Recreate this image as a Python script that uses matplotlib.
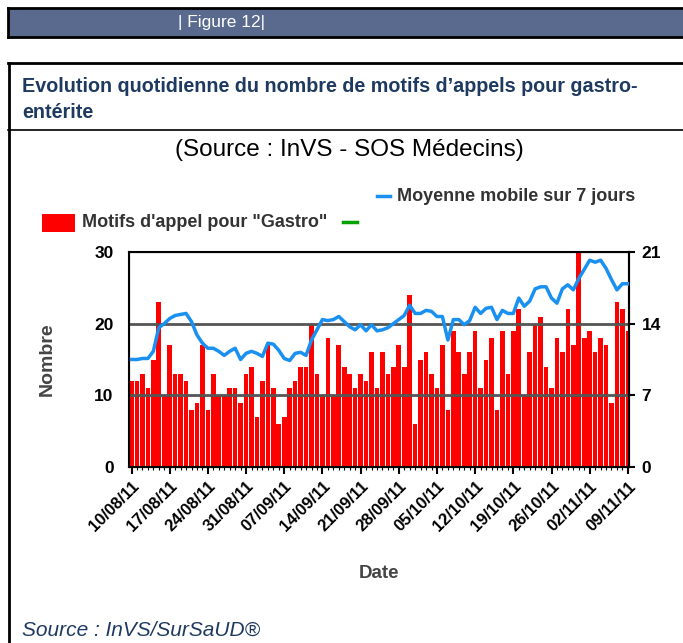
import numpy as np
import pandas as pd
import matplotlib
matplotlib.use("Agg")
import matplotlib.pyplot as plt
import matplotlib.dates as mdates
from matplotlib.patches import Rectangle
from matplotlib.lines import Line2D

plt.rcParams['font.family'] = ['Liberation Sans', 'DejaVu Sans']

# daily counts of "Gastro" call reasons, 10/08/11 -> 09/11/11
start = "2011-08-10"
cases = [12, 12, 13, 11, 15, 23, 10, 17, 13, 13, 12, 8, 9, 17, 8, 13, 10, 10, 11, 11,
         9, 13, 14, 7, 12, 17, 11, 6, 7, 11, 12, 14, 14, 20, 13, 10, 18, 10, 17, 14,
         13, 11, 13, 12, 16, 11, 16, 13, 14, 17, 14, 24, 6, 15, 16, 13, 11, 17, 8, 19,
         16, 13, 16, 19, 11, 15, 18, 8, 19, 13, 19, 22, 10, 16, 20, 21, 14, 11, 18, 16,
         22, 17, 30, 18, 19, 16, 18, 17, 9, 23, 22, 19]
# 7-day moving average, read on the right axis (0-21)
moving_avg = [10.5, 10.5, 10.6, 10.6, 11.3, 13.6, 14.0, 14.5, 14.8, 14.9, 15.0, 14.2,
              12.9, 12.1, 11.6, 11.6, 11.3, 10.9, 11.3, 11.6, 10.5, 11.1, 11.3, 11.1,
              10.8, 12.1, 12.0, 11.4, 10.6, 10.4, 11.1, 11.2, 10.9, 12.4, 13.4, 14.4,
              14.3, 14.4, 14.7, 14.2, 13.7, 13.4, 13.9, 13.3, 13.9, 13.3, 13.4, 13.6,
              14.0, 14.4, 14.8, 15.8, 15.0, 15.0, 15.3, 15.2, 14.7, 14.7, 12.4, 14.4,
              14.4, 13.9, 14.3, 15.6, 15.0, 15.5, 15.6, 14.4, 15.3, 15.0, 15.0, 16.5,
              15.7, 16.2, 17.4, 17.6, 17.6, 16.5, 16.0, 17.4, 17.8, 17.3, 18.4, 19.3,
              20.2, 20.0, 20.2, 19.4, 18.3, 17.3, 17.9, 17.9]
dates = pd.date_range(start, periods=len(cases), freq="D")

fig = plt.figure(figsize=(6.83, 6.43), dpi=100)

# page decorations (pixel coords -> figure fraction)
W, H = 683.0, 643.0
def fx(x): return x / W
def fy(y): return 1 - y / H

fig.patches.append(Rectangle((fx(8), fy(37)), fx(675), (29) / H, transform=fig.transFigure,
                             facecolor="#596a8e", edgecolor="none"))
for y in (8, 37):
    fig.lines.append(Line2D([fx(8), 1], [fy(y), fy(y)], transform=fig.transFigure, color="black", lw=2))
fig.lines.append(Line2D([fx(8), fx(8)], [fy(8), fy(37)], transform=fig.transFigure, color="black", lw=2))
fig.text(fx(178), fy(23), "| Figure 12|", color="white", fontsize=12.5, va="center", ha="left")

fig.lines.append(Line2D([fx(8), 1], [fy(63), fy(63)], transform=fig.transFigure, color="black", lw=2))
fig.lines.append(Line2D([fx(8), 1], [fy(130), fy(130)], transform=fig.transFigure, color="black", lw=1.2))
fig.lines.append(Line2D([fx(9), fx(9)], [fy(63), 0], transform=fig.transFigure, color="black", lw=2))
fig.text(fx(22), fy(87), "Evolution quotidienne du nombre de motifs d\u2019appels pour gastro-",
         color="#1f3a60", fontsize=14.2, fontweight="bold", va="center")
fig.text(fx(22), fy(112), "entérite", color="#1f3a60", fontsize=14.2, fontweight="bold",
         va="center")
fig.text(fx(349), fy(150), "(Source : InVS - SOS Médecins)", fontsize=17.5, ha="center", va="center")
fig.text(fx(22), fy(630), "Source : InVS/SurSaUD\u00ae", color="#1f3a60", fontsize=15,
         style="italic", va="center")

ax = fig.add_axes([fx(129), fy(467), (629 - 129) / W, (467 - 252) / H])
ax.bar(dates, cases, width=0.85, color="#ff0000", zorder=2)
ax.set_ylim(0, 30)
ax.set_yticks([0, 10, 20, 30])
ax.set_xlim(dates[0] - pd.Timedelta(hours=11), dates[-1] + pd.Timedelta(hours=5))
for v in (10, 20):
    ax.axhline(v, color="#555555", lw=2, zorder=3)
ax.set_xticks(dates[::7])
ax.xaxis.set_major_formatter(mdates.DateFormatter("%d/%m/%y"))
ax.xaxis.set_minor_locator(mdates.DayLocator())
ax.tick_params(axis="x", which="major", length=5, width=1.5)
ax.tick_params(axis="x", which="minor", length=2, width=0.8)
ax.tick_params(axis="y", length=0, pad=11)
for lab in ax.get_xticklabels():
    lab.set_rotation(45)
    lab.set_ha("right")
    lab.set_rotation_mode("anchor")
    lab.set_fontweight("bold")
    lab.set_fontsize(12)
for lab in ax.get_yticklabels():
    lab.set_fontweight("bold")
    lab.set_fontsize(12.5)
for s in ax.spines.values():
    s.set_linewidth(1.5)
ax.set_ylabel("Nombre", fontsize=14, fontweight="bold", color="#444444", labelpad=28)
ax.set_xlabel("Date", fontsize=13.5, fontweight="bold", color="#444444", labelpad=22)

ax2 = ax.twinx()
ax2.plot(dates, moving_avg, color="#1a90f0", lw=2.5, zorder=4)
ax2.set_ylim(0, 21)
ax2.set_yticks([0, 7, 14, 21])
ax2.tick_params(axis="y", length=4, width=1.5, pad=5)
for lab in ax2.get_yticklabels():
    lab.set_fontweight("bold")
    lab.set_fontsize(12.5)
ax2.spines["right"].set_linewidth(1.5)

# legend
fig.lines.append(Line2D([fx(377), fx(390)], [fy(196), fy(196)], transform=fig.transFigure,
                        color="#1a90f0", lw=2.5))
fig.text(fx(397), fy(196), "Moyenne mobile sur 7 jours", fontsize=13, fontweight="bold",
         color="#333333", va="center")
fig.patches.append(Rectangle((fx(42), fy(232)), 33 / W, 18 / H, transform=fig.transFigure,
                             facecolor="#ff0000", edgecolor="none"))
fig.text(fx(82), fy(223), "Motifs d'appel pour \"Gastro\"", fontsize=13, fontweight="bold",
         color="#333333", va="center")
fig.lines.append(Line2D([fx(343), fx(357)], [fy(222), fy(222)], transform=fig.transFigure,
                        color="#00a000", lw=2.5))

fig.savefig("out.png", dpi=100)
